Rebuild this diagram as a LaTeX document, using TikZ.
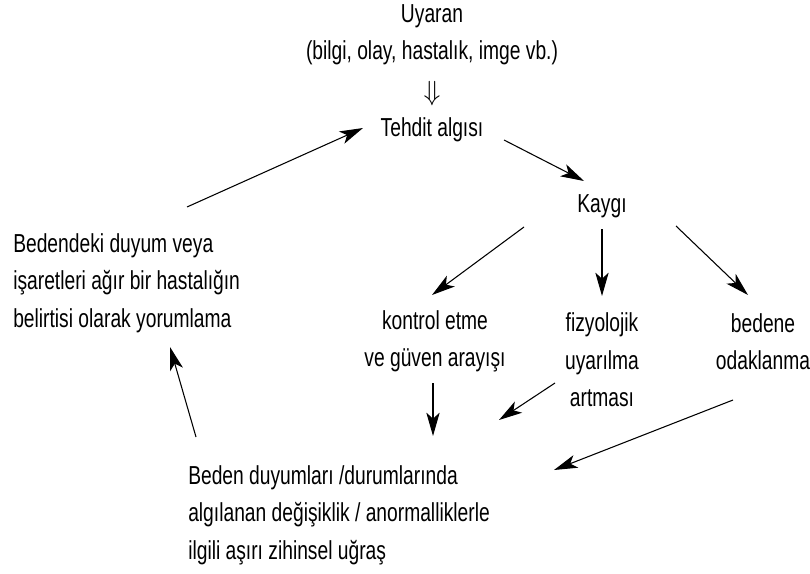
\documentclass[tikz,border=0pt]{standalone}
\usepackage{fontspec}
\setmainfont[FakeStretch=0.74]{Liberation Sans}
\usetikzlibrary{arrows.meta}
\begin{document}
\begin{tikzpicture}[x=0.75pt,y=-0.75pt,
  txt/.style={inner sep=0pt, font=\fontsize{19.5}{28}\selectfont, align=center},
  ltxt/.style={txt, align=left, anchor=west},
  arr/.style={line width=0.8pt, -{Stealth[length=17.5pt,width=10pt,inset=4.5pt]}}]
\useasboundingbox (0,0) rectangle (810,574);
% text nodes
\node[txt] (uyaran) at (432,16) {Uyaran};
\node[txt] (bilgi) at (432,53) {(bilgi, olay, hastalık, imge vb.)};
\node[txt] (dbl) at (432,94) {$\Downarrow$};
\node[txt] (tehdit) at (432,130) {Tehdit algısı};
\node[txt] (kaygi) at (602,206) {Kaygı};
\node[ltxt] (yorum) at (13,283) {Bedendeki duyum veya\\işaretleri ağır bir hastalığın\\belirtisi olarak yorumlama};
\node[txt] (kontrol) at (435,341.5) {kontrol etme\\ve güven arayışı};
\node[txt] (fiz) at (602,360) {fizyolojik\\uyarılma\\artması};
\node[txt] (bedene) at (763,341.5) {bedene\\odaklanma};
\node[ltxt] (ugras) at (188,515) {Beden duyumları /durumlarında\\algılanan değişiklik / anormalliklerle\\ilgili aşırı zihinsel uğraş};
% connector end points
\coordinate (t1) at (504,140); \coordinate (k1) at (584,181);
\coordinate (y1) at (187,207); \coordinate (t2) at (363,128);
\coordinate (k2) at (524,227); \coordinate (ko1) at (432,295);
\coordinate (k3) at (602,229); \coordinate (f1) at (602,296);
\coordinate (k4) at (676,226); \coordinate (b1) at (748,295);
\coordinate (ko2) at (433,383); \coordinate (u1) at (433,436);
\coordinate (f2) at (555,383); \coordinate (u2) at (499,420);
\coordinate (b2) at (733,400); \coordinate (u3) at (554,470);
\coordinate (u4) at (196,437); \coordinate (y2) at (170,347);
% connectors
\draw[arr] (t1) -- (k1);
\draw[arr] (y1) -- (t2);
\draw[arr] (k2) -- (ko1);
\draw[arr] (k3) -- (f1);
\draw[arr] (k4) -- (b1);
\draw[arr] (ko2) -- (u1);
\draw[arr] (f2) -- (u2);
\draw[arr] (b2) -- (u3);
\draw[arr] (u4) -- (y2);
\end{tikzpicture}
\end{document}
